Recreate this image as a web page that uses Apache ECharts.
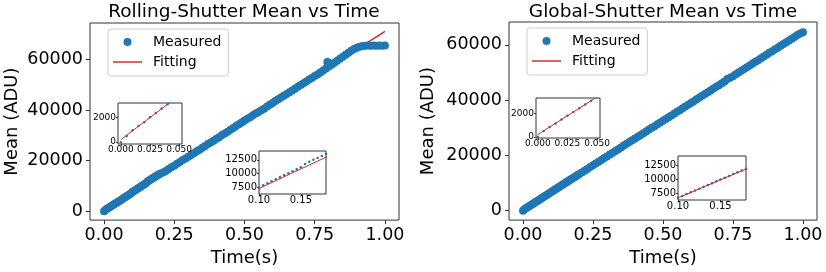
<!DOCTYPE html>
<html>
<head>
<meta charset="utf-8">
<script src="https://cdn.jsdelivr.net/npm/echarts@6/dist/echarts.min.js"></script>
<style>html,body{margin:0;padding:0;background:#fff;}#c{width:826px;height:272px;}</style>
</head>
<body>
<div id="c"></div>
<script>
// ---------- data ----------
const rollingTime = [0,0.005,0.01,0.015,0.02,0.025,0.03,0.035,0.04,0.045,0.05,0.055,0.06,0.065,0.07,0.075,0.08,0.085,0.09,0.095,
  0.1,0.105,0.11,0.115,0.12,0.125,0.13,0.135,0.14,0.145,0.15,0.155,0.16,0.165,0.17,0.175,0.18,0.185,0.19,0.195,0.2,
  0.21,0.22,0.23,0.24,0.25,0.26,0.27,0.28,0.29,0.3,0.31,0.32,0.33,0.34,0.35,0.36,0.37,0.38,0.39,0.4,
  0.41,0.42,0.43,0.44,0.45,0.46,0.47,0.48,0.49,0.5,0.51,0.52,0.53,0.54,0.55,0.56,0.57,0.58,0.59,0.6,
  0.61,0.62,0.63,0.64,0.65,0.66,0.67,0.68,0.69,0.7,0.71,0.72,0.73,0.74,0.75,0.76,0.77,0.78,0.79,0.795,0.798,0.8,
  0.81,0.82,0.83,0.84,0.85,0.86,0.87,0.88,0.89,0.9,0.91,0.92,0.93,0.94,0.95,0.96,0.97,0.98,0.99,1.0];
const rollingMean = [0,500,950,1300,1600,2000,2350,2700,3050,3400,3780,4100,4500,4800,5200,5550,5900,6280,6600,6980,
  7500,7900,8250,8600,8980,9350,9700,10050,10420,10780,11150,11750,12150,12500,12850,13200,13550,13900,14250,14550,14900,
  15300,15950,16700,17400,18050,18800,19450,20250,20900,21600,22250,23000,23700,24300,25150,25800,26600,27200,27950,28700,
  29300,30150,30800,31500,32300,32900,33700,34400,35100,35900,36600,37200,38000,38700,39300,40000,40600,41500,42100,42850,
  43600,44300,45000,45700,46400,47100,47800,48500,49300,50000,50700,51300,52100,52700,53500,54100,54900,55700,56500,59100,58900,57300,
  58000,58800,59600,60400,61100,61900,62700,63500,64200,64700,65100,65400,65500,65550,65500,65550,65500,65550,65500,65550];
const rollingFit = [[0, 200], [1, 71200]];

const globalTime = [0,0.005,0.01,0.015,0.02,0.025,0.03,0.035,0.04,0.045,0.05,0.055,0.06,0.065,0.07,0.075,0.08,0.085,0.09,0.095,
  0.1,0.105,0.11,0.115,0.12,0.125,0.13,0.135,0.14,0.145,0.15,0.155,0.16,0.165,0.17,0.175,0.18,0.185,0.19,0.195,0.2,
  0.21,0.22,0.23,0.24,0.25,0.26,0.27,0.28,0.29,0.3,0.31,0.32,0.33,0.34,0.35,0.36,0.37,0.38,0.39,0.4,
  0.41,0.42,0.43,0.44,0.45,0.46,0.47,0.48,0.49,0.5,0.51,0.52,0.53,0.54,0.55,0.56,0.57,0.58,0.59,0.6,
  0.61,0.62,0.63,0.64,0.65,0.66,0.67,0.68,0.69,0.7,0.71,0.72,0.73,0.74,0.75,0.76,0.77,0.78,0.79,0.8,
  0.81,0.82,0.83,0.84,0.85,0.86,0.87,0.88,0.89,0.9,0.91,0.92,0.93,0.94,0.95,0.96,0.97,0.98,0.99,1.0];
const globalMean = [0,500,850,1150,1500,1820,2150,2470,2800,3120,3440,3780,4100,4420,4750,5070,5400,5720,6050,6370,
  6720,7040,7370,7690,8020,8340,8670,9000,9320,9650,9970,10300,10620,10950,11270,11600,11920,12240,12560,12880,13200,
  13850,14500,15100,15800,16450,17050,17750,18350,19050,19650,20300,20950,21600,22250,22900,23600,24250,24850,25500,26100,
  26800,27400,28050,28700,29400,30000,30600,31300,31950,32600,33200,33850,34500,35100,35800,36400,37100,37700,38350,39000,
  39650,40300,40950,41600,42250,42900,43550,44200,44850,45450,46100,46800,47700,48100,48700,49350,50000,50650,51300,51950,
  52600,53300,53900,54500,55150,55800,56450,57150,57750,58400,59000,59700,60300,60950,61600,62250,62900,63550,64150,64600];
const globalFit = [[0, 200], [1, 65000]];

const titles = ['Rolling-Shutter Mean vs Time', 'Global-Shutter Mean vs Time'];
const xTicksMain = [0, 0.25, 0.5, 0.75, 1.0];
const yTicksMain = [0, 20000, 40000, 60000];
const xTicksInset1 = [0, 0.025, 0.05];
const yTicksInset1 = [0, 2000];
const xTicksInset2 = [0.1, 0.15];
const yTicksInset2 = [7500, 10000, 12500];

// ---------- chart ----------
const FONT = 'DejaVu Sans';
const BLUE = '#1f77b4', RED = '#d62728', FRAME = '#333';
const rollingPts = rollingTime.map((t, i) => [t, rollingMean[i]]);
const globalPts = globalTime.map((t, i) => [t, globalMean[i]]);

function axis(type, gi, min, max, ticks, digits, fs, margin, tlen, extra) {
  return Object.assign({
    type: 'value', gridIndex: gi, min: min, max: max,
    position: type === 'x' ? 'bottom' : 'left',
    axisLine: { show: false, onZero: false }, splitLine: { show: false },
    axisTick: { show: true, length: tlen, customValues: ticks, lineStyle: { color: FRAME, width: 1 } },
    axisLabel: { customValues: ticks, formatter: v => digits === null ? String(v) : v.toFixed(digits),
      fontSize: fs, margin: margin, color: '#000', fontFamily: FONT }
  }, extra || {});
}

const grids = [
  { left: 90, top: 23, width: 309, height: 200 },
  { left: 509, top: 22, width: 308, height: 201 },
  { left: 118, top: 103, width: 64, height: 41, inset: true },
  { left: 259, top: 151, width: 67, height: 43, inset: true },
  { left: 536, top: 98, width: 64, height: 40, inset: true },
  { left: 678, top: 156, width: 68, height: 44, inset: true }
].map(g => ({ left: g.left, top: g.top, width: g.width, height: g.height, show: true,
  borderColor: FRAME, borderWidth: 1, backgroundColor: g.inset ? '#fff' : 'transparent', z: g.inset ? 3 : 0 }));

const nameStyle = { fontSize: 18, fontFamily: FONT, color: '#000' };
const xAxes = [
  axis('x', 0, -0.05, 1.05, xTicksMain, 2, 17.5, 6, 4, { name: 'Time(s)', nameLocation: 'middle', nameGap: 26, nameTextStyle: nameStyle }),
  axis('x', 1, -0.05, 1.05, xTicksMain, 2, 17.5, 6, 4, { name: 'Time(s)', nameLocation: 'middle', nameGap: 26, nameTextStyle: nameStyle }),
  axis('x', 2, -0.0025, 0.0525, xTicksInset1, 3, 9, 1, 2, { z: 4 }),
  axis('x', 3, 0.1, 0.18, xTicksInset2, 2, 10, 1, 2, { z: 4 }),
  axis('x', 4, -0.0015, 0.0525, xTicksInset1, 3, 9, 1, 2, { z: 4 }),
  axis('x', 5, 0.1, 0.18, xTicksInset2, 2, 10, 1, 2, { z: 4 })
];
const yAxes = [
  axis('y', 0, -3500, 74500, yTicksMain, null, 17.5, 7, 4, { name: 'Mean (ADU)', nameLocation: 'middle', nameGap: 69, nameTextStyle: nameStyle }),
  axis('y', 1, -3400, 68300, yTicksMain, null, 17.5, 7, 4, { name: 'Mean (ADU)', nameLocation: 'middle', nameGap: 72, nameTextStyle: nameStyle }),
  axis('y', 2, -150, 3150, yTicksInset1, null, 9, 2, 2, { z: 4 }),
  axis('y', 3, 6300, 14100, yTicksInset2, null, 10, 2, 2, { z: 4 }),
  axis('y', 4, -100, 3350, yTicksInset1, null, 9, 2, 2, { z: 4 }),
  axis('y', 5, 6300, 14200, yTicksInset2, null, 10, 2, 2, { z: 4 })
];

function scatter(name, pts, idx, size, z) {
  return { type: 'scatter', name: name, xAxisIndex: idx, yAxisIndex: idx, data: pts, symbolSize: size,
    itemStyle: { color: BLUE, opacity: 1 }, clip: true, z: z, silent: true, animation: false };
}
function fitLine(name, pts, idx, w, z) {
  return { type: 'line', name: name, xAxisIndex: idx, yAxisIndex: idx, data: pts, symbol: 'none', showSymbol: false,
    lineStyle: { color: RED, width: w }, itemStyle: { color: RED }, clip: true, z: z, silent: true, animation: false };
}

const series = [
  scatter('Measured', rollingPts, 0, 8, 2), fitLine('Fitting', rollingFit, 0, 1.5, 2),
  scatter('Measured', globalPts, 1, 8, 2), fitLine('Fitting', globalFit, 1, 1.5, 2),
  scatter('m-in1', rollingPts, 2, 2.5, 5), fitLine('f-in1', rollingFit, 2, 1, 6),
  scatter('m-in2', rollingPts, 3, 2.5, 5), fitLine('f-in2', rollingFit, 3, 1, 6),
  scatter('m-in3', globalPts, 4, 2.5, 5), fitLine('f-in3', globalFit, 4, 1, 6),
  scatter('m-in4', globalPts, 5, 2.5, 5), fitLine('f-in4', globalFit, 5, 1, 6)
];

function legend(left, top) {
  return { left: left, top: top, orient: 'vertical', selectedMode: false,
    data: [{ name: 'Measured', icon: 'circle' }, { name: 'Fitting', icon: 'path://M0,0H40V2H0Z' }],
    symbolKeepAspect: true,
    itemWidth: 29, itemHeight: 8, itemGap: 2, padding: [4, 7, 5, 5],
    borderColor: '#cfcfcf', borderWidth: 1, borderRadius: 3, backgroundColor: 'rgba(255,255,255,0.85)',
    textStyle: { fontSize: 14, fontFamily: FONT, color: '#000', lineHeight: 18, padding: [0, 0, 0, 6] } };
}

const option = {
  animation: false,
  backgroundColor: '#fff',
  title: [
    { text: titles[0], left: 244, top: 2, textAlign: 'center', padding: 0,
      textStyle: { fontSize: 18.5, fontWeight: 'normal', fontFamily: FONT, color: '#000', lineHeight: 20 } },
    { text: titles[1], left: 663, top: 2, textAlign: 'center', padding: 0,
      textStyle: { fontSize: 18.5, fontWeight: 'normal', fontFamily: FONT, color: '#000', lineHeight: 20 } }
  ],
  legend: [legend(108, 29), legend(527, 28)],
  grid: grids, xAxis: xAxes, yAxis: yAxes, series: series
};

const chart = echarts.init(document.getElementById('c'), null, { renderer: 'canvas' });
chart.setOption(option);
</script>
</body>
</html>
